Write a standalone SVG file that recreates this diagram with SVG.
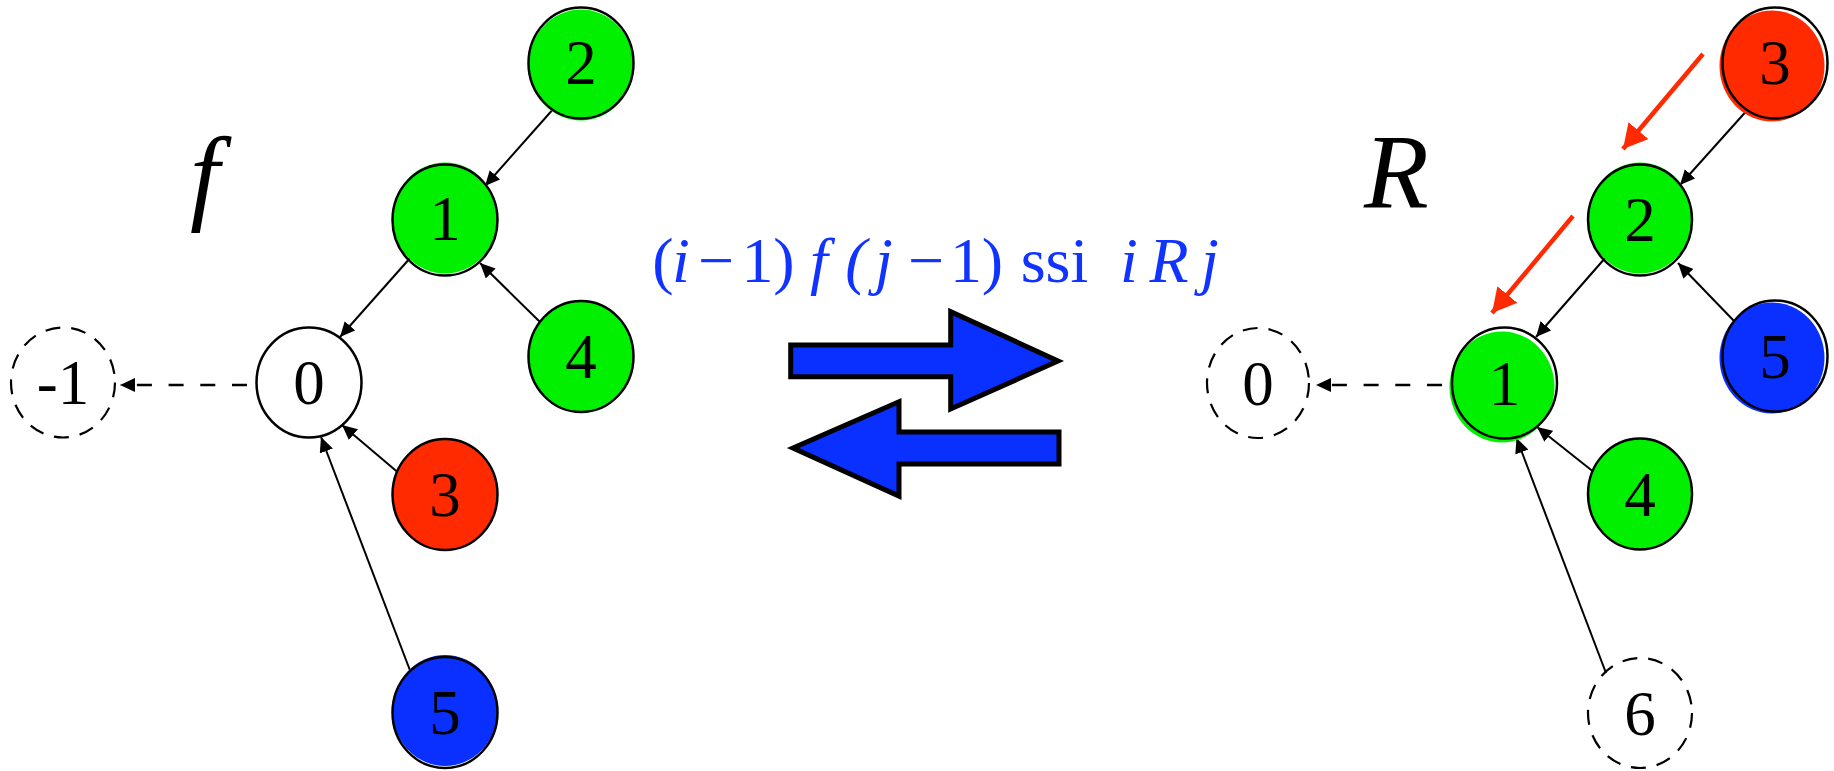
<svg xmlns="http://www.w3.org/2000/svg" width="1834" height="771" viewBox="0 0 1834 771">
<style>
.nd{stroke:#000;stroke-width:2.5}
.g{fill:#00F000}.r{fill:#FF2A00}.b{fill:#0A30FF}.w{fill:#fff}
.dash{fill:none;stroke:#000;stroke-width:2.2;stroke-dasharray:15 11}
.num{font-family:"Liberation Serif","Times New Roman",serif;font-size:63px;fill:#000;text-anchor:middle}
.big{font-family:"Liberation Serif","Times New Roman",serif;font-style:italic;font-size:106px;fill:#000}
.eq{font-family:"Liberation Serif","Times New Roman",serif;font-size:64px;fill:#1133FF;text-anchor:middle}
.it{font-style:italic}
.cn{stroke:#000;stroke-width:2;fill:none;marker-end:url(#ah)}
.cd{stroke:#000;stroke-width:2.5;fill:none;stroke-dasharray:15 16.7;marker-end:url(#ah)}
.red{stroke:#FF2A00;stroke-width:4.5;fill:none;marker-end:url(#rh)}
.bigarrow{fill:#0A30FF;stroke:#000;stroke-width:5;stroke-linejoin:miter}
</style>
<defs>
<marker id="ah" markerUnits="userSpaceOnUse" viewBox="0 0 15 14" refX="15" refY="7" markerWidth="15" markerHeight="14" orient="auto">
<path d="M0,0 L15,7 L0,14 z" fill="#000"/>
</marker>
<marker id="rh" markerUnits="userSpaceOnUse" viewBox="0 0 24 26" refX="24" refY="13" markerWidth="24" markerHeight="26" orient="auto">
<path d="M0,0 L24,13 L0,26 z" fill="#FF2A00"/>
</marker>
</defs>
<rect width="1834" height="771" fill="#fff"/>

<g id="connectors">
<line class="cn" x1="555" y1="107" x2="485" y2="186"/>
<line class="cn" x1="411" y1="257" x2="340" y2="337"/>
<line class="cn" x1="540" y1="322" x2="480" y2="263"/>
<line class="cn" x1="401" y1="475" x2="342" y2="425"/>
<line class="cn" x1="411" y1="673" x2="321" y2="437"/>
<line class="cd" x1="247" y1="385" x2="120" y2="385"/>
<line class="cn" x1="1750" y1="107" x2="1680" y2="185"/>
<line class="cn" x1="1606" y1="257" x2="1536" y2="337"/>
<line class="cn" x1="1735" y1="322" x2="1678" y2="263"/>
<line class="cn" x1="1595" y1="473" x2="1537" y2="427"/>
<line class="cn" x1="1606" y1="673" x2="1516.5" y2="438"/>
<line class="cd" x1="1442" y1="385" x2="1316" y2="385"/>
<line class="red" x1="1703" y1="54" x2="1623" y2="149"/>
<line class="red" x1="1573" y1="216" x2="1492" y2="313"/>
</g>

<g id="label-f"><text class="big" x="190" y="210">f</text></g>
<g id="label-R"><text class="big" x="1364" y="207">R</text></g>

<g id="equation">
<text class="eq" x="663" y="282">(</text>
<text class="eq it" x="681" y="282">i</text>
<text class="eq" x="716" y="282">−</text>
<text class="eq" x="757.5" y="282">1</text>
<text class="eq" x="784" y="282">)</text>
<text class="eq it" x="819" y="282">f</text>
<text class="eq it" x="856" y="282">(</text>
<text class="eq it" x="884" y="282">j</text>
<text class="eq" x="926" y="282">−</text>
<text class="eq" x="966" y="282">1</text>
<text class="eq" x="992.5" y="282">)</text>
<text class="eq" x="1054.5" y="282">ssi</text>
<text class="eq it" x="1129" y="282">i</text>
<text class="eq it" x="1169" y="282">R</text>
<text class="eq it" x="1210" y="282">j</text>
</g>

<g id="arrow-right"><polygon class="bigarrow" points="790.7,345 950.7,345 950.7,311.7 1058,361 950.7,409 950.7,376.7 790.7,376.7"/></g>
<g id="arrow-left"><polygon class="bigarrow" points="1059,432 899,432 899,401.7 793,448 899,496 899,464 1059,464"/></g>

<!-- left tree -->
<g id="f-node-2"><ellipse class="g" cx="581" cy="65" rx="52.5" ry="55.5"/><ellipse class="nd" fill="none" cx="581" cy="63" rx="52.5" ry="55.5"/><text class="num" x="581" y="84">2</text></g>
<g id="f-node-1"><ellipse class="g" cx="445" cy="218" rx="52.5" ry="55.5"/><ellipse class="nd" fill="none" cx="445" cy="220" rx="52.5" ry="55.5"/><text class="num" x="445" y="240">1</text></g>
<g id="f-node-4"><ellipse class="g nd" cx="581" cy="356.5" rx="52.5" ry="55.5"/><text class="num" x="581" y="378">4</text></g>
<g id="f-node-0"><ellipse class="w nd" cx="309" cy="382.5" rx="52.5" ry="55"/><text class="num" x="309" y="404">0</text></g>
<g id="f-node-m1"><ellipse class="dash" cx="63" cy="382.5" rx="52" ry="55"/><text class="num" x="63" y="404">-1</text></g>
<g id="f-node-3"><ellipse class="r nd" cx="445" cy="494.5" rx="52.5" ry="55.5"/><text class="num" x="445" y="516">3</text></g>
<g id="f-node-5"><ellipse class="b" cx="445" cy="710.5" rx="52.5" ry="55.5"/><ellipse class="nd" fill="none" cx="445" cy="712.5" rx="52.5" ry="55.5"/><text class="num" x="445" y="734">5</text></g>

<!-- right tree -->
<g id="R-node-3"><ellipse class="r" cx="1772" cy="66" rx="52.5" ry="55.5"/><ellipse class="nd" fill="none" cx="1775" cy="63" rx="52.5" ry="55.5"/><text class="num" x="1775" y="84">3</text></g>
<g id="R-node-2"><ellipse class="g" cx="1640" cy="218" rx="52" ry="55.5"/><ellipse class="nd" fill="none" cx="1640" cy="220" rx="52" ry="55.5"/><text class="num" x="1640" y="241">2</text></g>
<g id="R-node-5"><ellipse class="b" cx="1772" cy="358" rx="52.5" ry="55.5"/><ellipse class="nd" fill="none" cx="1775" cy="356" rx="52.5" ry="55.5"/><text class="num" x="1775" y="378">5</text></g>
<g id="R-node-1"><ellipse class="g" cx="1502" cy="387" rx="52.5" ry="55.5"/><ellipse class="nd" fill="none" cx="1504.5" cy="383" rx="52.5" ry="55.5"/><text class="num" x="1504.5" y="405">1</text></g>
<g id="R-node-0"><ellipse class="dash" cx="1258" cy="383" rx="51" ry="55"/><text class="num" x="1258" y="405">0</text></g>
<g id="R-node-4"><ellipse class="g nd" cx="1640" cy="494" rx="52" ry="55.5"/><text class="num" x="1640" y="516">4</text></g>
<g id="R-node-6"><ellipse class="dash" cx="1640" cy="713" rx="52" ry="55"/><text class="num" x="1640" y="735">6</text></g>
</svg>
